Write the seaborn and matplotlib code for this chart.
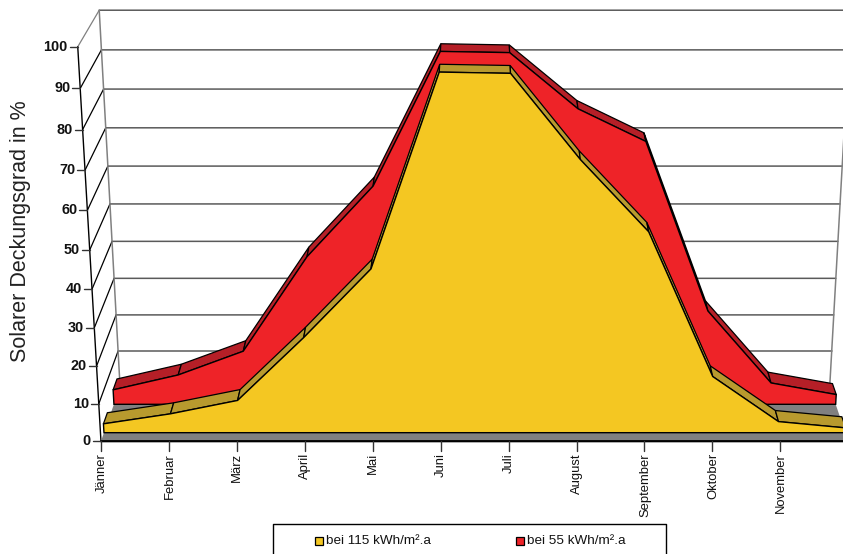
import numpy as np
import pandas as pd
import matplotlib
matplotlib.use('Agg')
import matplotlib.pyplot as plt
import seaborn as sns

months = ['Jänner', 'Februar', 'März', 'April', 'Mai', 'Juni', 'Juli',
          'August', 'September', 'Oktober', 'November', 'Dezember']
yellow_label = 'bei 115 kWh/m².a'
red_label = 'bei 55 kWh/m².a'
yellow_values = [2.4, 5.1, 8.7, 25.4, 43.3, 92.5, 92.2, 71.0, 52.8, 15.1, 3.0, 1.3]
red_values = [4.0, 8.1, 14.6, 40.0, 58.5, 92.7, 92.4, 78.3, 70.0, 25.5, 5.9, 2.7]
y_ticks = [0, 10, 20, 30, 40, 50, 60, 70, 80, 90, 100]

YELLOW = '#F4C722'
YELLOW_TOP = '#B89A2E'
RED = '#EE2328'
RED_TOP = '#B51F27'
FLOOR = '#808080'
GRID = '#5a5a5a'

# depth of each band, 0 = front of the box, 1 = back wall
YELLOW_Z = (0.15, 0.35)
RED_Z = (0.667, 0.875)

# the chart is a tilted box, fit the camera from where its corners land on the image
corners = [(0, 0, 0), (0, 100, 0), (11, 0, 0), (11, 100, 0),
           (0, 0, 1), (0, 100, 1), (11, 0, 1), (11, 100, 1)]
corner_px = [(100.5, 441), (78, 47), (848.5, 441), (872, 47),
             (120.5, 387), (99, 10), (829.5, 387), (851, 10)]


def fit_camera(world, image):
    rows = []
    for (a, b, c), (u, v) in zip(world, image):
        p = [a, b, c, 1]
        rows.append(p + [0, 0, 0, 0] + [-u * q for q in p])
        rows.append([0, 0, 0, 0] + p + [-v * q for q in p])
    return np.linalg.svd(np.array(rows, dtype=float))[2][-1].reshape(3, 4)


camera = fit_camera(corners, corner_px)


def project(x, y, z):
    h = camera @ np.array([x, y, z, 1.0])
    return h[0] / h[2], h[1] / h[2]


def draw_line(ax, pts, color, lw=1.0, zorder=2):
    xs, ys = zip(*pts)
    sns.lineplot(x=list(xs), y=list(ys), sort=False, estimator=None, color=color,
                 linewidth=lw, zorder=zorder, ax=ax)


def draw_band(ax, values, z, face, top):
    z_front, z_back = z
    for i in range(len(values) - 1):
        strip = [project(i, values[i], z_front), project(i + 1, values[i + 1], z_front),
                 project(i + 1, values[i + 1], z_back), project(i, values[i], z_back)]
        ax.fill(*zip(*strip), facecolor=top, edgecolor='black', linewidth=0.9, zorder=3)
    outline = [project(0, 0, z_front)]
    outline += [project(i, v, z_front) for i, v in enumerate(values)]
    outline += [project(len(values) - 1, 0, z_front)]
    ax.fill(*zip(*outline), facecolor=face, edgecolor='black', linewidth=1.0, zorder=3)


sns.set_theme(style='white')
plt.rcParams['font.family'] = ['Liberation Sans', 'DejaVu Sans']

fig = plt.figure(figsize=(8.43, 5.54), dpi=100)
ax = fig.add_axes([0, 0, 1, 1])

# walls
for t in y_ticks[1:]:
    draw_line(ax, [project(0, t, 1), project(11, t, 1)], GRID, 1.1)
    color = FLOOR if t == 100 else 'black'
    draw_line(ax, [project(0, t, 0), project(0, t, 1)], color, 0.9)
draw_line(ax, [project(0, 0, 1), project(0, 100, 1)], FLOOR, 1.1)
draw_line(ax, [project(11, 0, 1), project(11, 100, 1)], FLOOR, 1.1)
draw_line(ax, [project(0, 0, 0), project(0, 100, 0)], 'black', 1.0)

# floor
floor = [project(0, 0, 0), project(11, 0, 0), project(11, 0, 1), project(0, 0, 1)]
ax.fill(*zip(*floor), facecolor=FLOOR, edgecolor='none', zorder=2)

draw_band(ax, red_values, RED_Z, RED, RED_TOP)
draw_band(ax, yellow_values, YELLOW_Z, YELLOW, YELLOW_TOP)
draw_line(ax, [project(0, 0, 0), project(11, 0, 0)], 'black', 1.6, zorder=4)

# value axis
for t in y_ticks:
    px, py = project(0, t, 0)
    draw_line(ax, [(px - 8, py), (px, py)], '#333333', 1.0, zorder=4)
    ax.text(px - 10, py, str(t), ha='right', va='center', fontsize=10.4, fontweight='bold',
            color='#111111')

# month axis
for i, m in enumerate(months):
    px, py = project(i, 0, 0)
    draw_line(ax, [(px, py), (px, py + 10)], '#333333', 1.0, zorder=4)
    ax.text(px + 0.5, py + 12, m, rotation=90, ha='center', va='top', fontsize=9.4,
            color='#111111')

ax.text(20.5, 231, 'Solarer Deckungsgrad in %', rotation=90, ha='center', va='center',
        fontsize=15.5, color='#222222')

# legend box runs off the bottom of the image
draw_line(ax, [(272.5, 560), (272.5, 523.5), (665.5, 523.5), (665.5, 560)], 'black', 1.0)
for x0, color, label in [(318.5, YELLOW, yellow_label), (519.5, RED, red_label)]:
    ax.fill([x0 - 4, x0 + 4, x0 + 4, x0 - 4], [536.5, 536.5, 544.5, 544.5], facecolor=color,
            edgecolor='black', linewidth=0.9)
    ax.text(x0 + 7.5, 540.5, label, ha='left', va='center', fontsize=9.7, color='#111111')

ax.set_xlim(0, 843)
ax.set_ylim(554, 0)
ax.axis('off')
fig.savefig('out.png', dpi=100)
